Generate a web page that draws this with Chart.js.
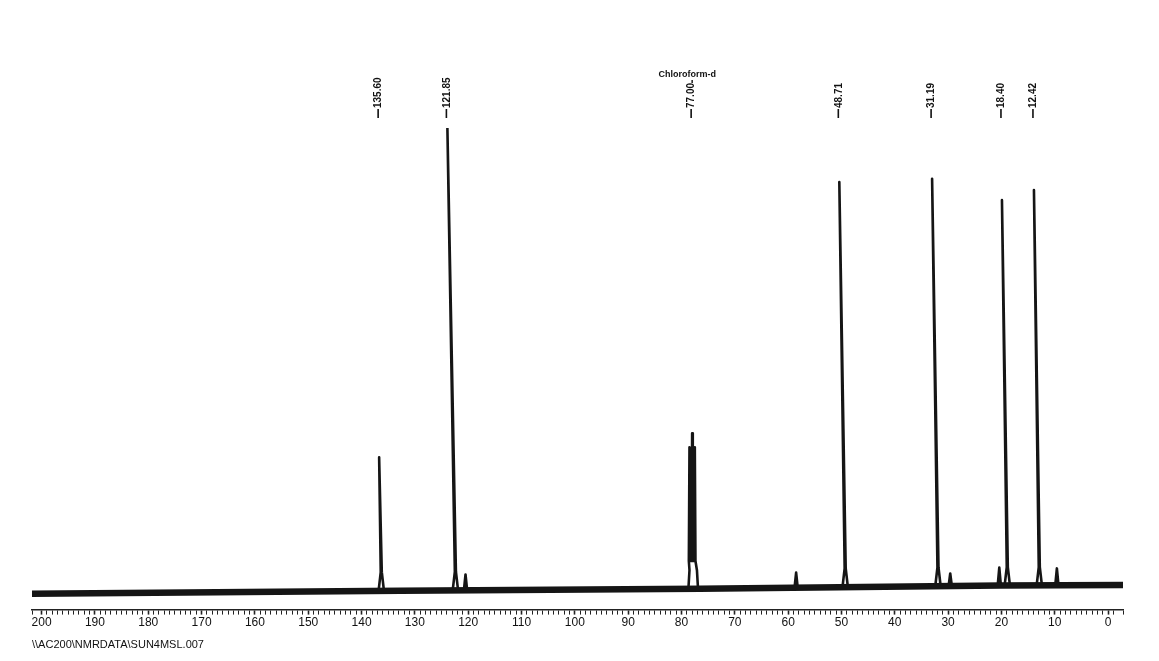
<!DOCTYPE html>
<html>
<head>
<meta charset="utf-8">
<script src="https://cdn.jsdelivr.net/npm/chart.js@4.4.1/dist/chart.umd.min.js"></script>
<style>
    html, body { margin: 0; padding: 0; background: #fff; }
    #wrap { width: 1159px; height: 661px; }
</style>
</head>
<body>
<div id="wrap"><canvas id="nmrChart" width="1159" height="661"></canvas></div>
<script>
// peaks (ppm on the printed scale); apex leans left of the foot
const peakLabels = ['135.60', '121.85', '77.00', '48.71', '31.19', '18.40', '12.42'];
const peakApex   = [136.7, 123.9, 78.0, 50.4, 33.0, 19.9, 13.9];
const peakBase   = [136.3, 122.4, 77.8, 49.3, 31.9, 18.9, 12.9];
const peakHeight = [28.8, 100, 34, 88.3, 89.0, 84.4, 86.6];
const peakFoot   = [0, 0.1, 0.4, 0.8, 1.0, 1.1, 1.1];

// CDCl3 triplet
const tripletShift  = [78.5, 78.0, 77.5];
const tripletHeight = [31, 34, 31];

// small impurity peaks
const smallShift  = [120.5, 58.5, 29.6, 20.4, 9.6];
const smallHeight = [3.5, 3.9, 3.7, 5.0, 4.8];
const smallFoot   = [0.1, 0.6, 1.0, 1.1, 1.2];

// baseline drift
const baseShift = [201.8, 132.7, 76.5, 20.2, -2.8];
const baseLevel = [-0.65, 0, 0.4, 1.1, 1.2];

const solventName = 'Chloroform-d';
const solventPeak = 2;
const filePath = '\\\\AC200\\NMRDATA\\SUN4MSL.007';

// build point lists
const basePts = baseShift.map((s, i) => ({ x: s, y: baseLevel[i] }));

// each peak is a group of points kept in drawing order; groups are ordered by their foot
let groups = [];
peakApex.forEach((a, i) => {
    let g = [];
    if (i === solventPeak) {
        g.push({ x: peakBase[i] + 0.9, y: peakFoot[i] });
        g.push({ x: peakBase[i] + 0.7, y: peakFoot[i] + 4 });
        tripletShift.forEach((s, j) => {
            g.push({ x: s + 0.12, y: peakFoot[i] + 6 });
            g.push({ x: s, y: tripletHeight[j] });
            g.push({ x: s - 0.12, y: peakFoot[i] + 6 });
        });
        g.push({ x: peakBase[i] - 0.7, y: peakFoot[i] + 4 });
        g.push({ x: peakBase[i] - 0.9, y: peakFoot[i] });
    } else {
        g.push({ x: peakBase[i] + 0.5, y: peakFoot[i] });
        g.push({ x: peakBase[i] + 0.1, y: peakFoot[i] + 4 });
        g.push({ x: a, y: peakHeight[i] });
        g.push({ x: peakBase[i] - 0.1, y: peakFoot[i] + 4 });
        g.push({ x: peakBase[i] - 0.5, y: peakFoot[i] });
    }
    groups.push(g);
});
smallShift.forEach((s, i) => {
    groups.push([
        { x: s + 0.3, y: smallFoot[i] },
        { x: s, y: smallHeight[i] },
        { x: s - 0.3, y: smallFoot[i] }
    ]);
});
groups.push([{ x: baseShift[0], y: baseLevel[0] }]);
groups.push([{ x: baseShift[baseShift.length - 1], y: baseLevel[baseLevel.length - 1] }]);
groups.sort((p, q) => q[0].x - p[0].x);
const specPts = groups.flat();

const labelPlugin = {
    id: 'peakLabels',
    afterDraw(chart) {
        const ctx = chart.ctx;
        const x = chart.scales.x;
        ctx.save();
        ctx.fillStyle = '#111';

        peakLabels.forEach((t, i) => {
            const px = x.getPixelForValue(peakApex[i]);
            ctx.save();
            ctx.translate(px - 1, 118);
            ctx.rotate(-Math.PI / 2);
            ctx.fillRect(0, -0.8, 9, 1.6);
            ctx.font = 'bold 10px "Liberation Sans Narrow", "Liberation Sans", Arial';
            ctx.textBaseline = 'middle';
            ctx.textAlign = 'left';
            ctx.fillText(t, 10, 0.5);
            ctx.restore();
        });

        const sx = x.getPixelForValue(peakApex[solventPeak]);
        ctx.font = 'bold 9px "Liberation Sans", Arial';
        ctx.textAlign = 'center';
        ctx.textBaseline = 'alphabetic';
        ctx.fillText(solventName, sx - 5, 77);
        ctx.fillRect(sx - 0.7, 80, 1.4, 3);

        ctx.font = '11px "Liberation Sans", Arial';
        ctx.textAlign = 'left';
        ctx.textBaseline = 'middle';
        ctx.fillText(filePath, 32, 645);
        ctx.restore();
    }
};

const config = {
    type: 'line',
    data: {
        datasets: [
            {
                data: basePts,
                borderColor: '#151515',
                borderWidth: 6.5,
                pointRadius: 0,
                tension: 0
            },
            {
                data: specPts,
                borderColor: '#151515',
                borderWidth: 2.6,
                borderJoinStyle: 'round',
                pointRadius: 0,
                tension: 0
            }
        ]
    },
    options: {
        responsive: false,
        animation: false,
        layout: {
            padding: { left: 32, right: 36, top: 128, bottom: 30 }
        },
        plugins: {
            legend: { display: false },
            tooltip: { enabled: false }
        },
        scales: {
            x: {
                type: 'linear',
                reverse: true,
                min: -2.8,
                max: 201.8,
                grid: {
                    drawOnChartArea: false,
                    tickLength: 5,
                    color: '#222',
                    tickWidth: c => (c.tick && c.tick.value % 10 === 0) ? 1.6 : 1
                },
                border: { display: true, color: '#222', width: 1.5 },
                ticks: {
                    stepSize: 1,
                    autoSkip: false,
                    maxRotation: 0,
                    padding: 1,
                    color: '#111',
                    font: { family: '"Liberation Sans", Arial', size: 12 },
                    callback: v => (Number.isInteger(v) && v % 10 === 0) ? String(v) : ''
                }
            },
            y: {
                display: false,
                min: -4.1,
                max: 100
            }
        }
    },
    plugins: [labelPlugin]
};

const nmrChart = new Chart(document.getElementById('nmrChart'), config);
</script>
</body>
</html>
